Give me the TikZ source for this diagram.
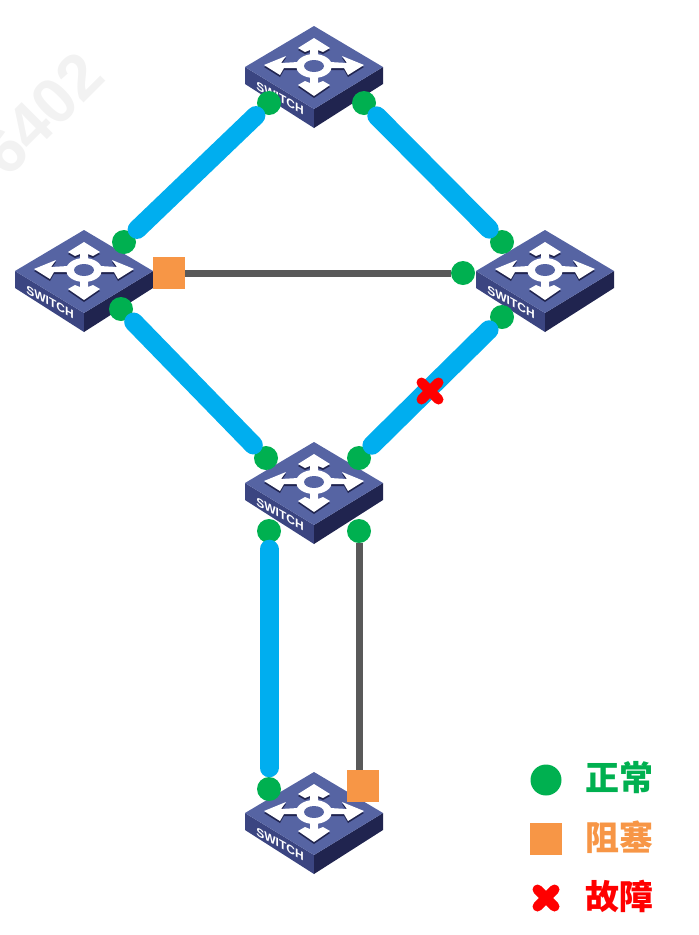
\documentclass[tikz,border=0pt]{standalone}
\usepackage{fontspec}
\setmainfont{Liberation Sans}
\newfontfamily\cjk{Noto Sans CJK SC}
\usetikzlibrary{shapes.misc}
\definecolor{linkblue}{HTML}{00AEEF}
\definecolor{linkgray}{HTML}{595959}
\definecolor{okgreen}{HTML}{00B050}
\definecolor{blockorange}{HTML}{F79646}
\definecolor{swtop}{HTML}{5664A3}
\definecolor{swleft}{HTML}{3B4581}
\definecolor{swright}{HTML}{20244F}
\tikzset{
  link/.style={linkblue,line width=19pt,line cap=round},
  backup/.style={linkgray,line width=7pt},
  port/.style={circle,fill=okgreen,inner sep=0pt,minimum size=24pt},
  blocked/.style={rectangle,fill=blockorange,inner sep=0pt,minimum size=32pt},
  fault/.style={cross out,draw=red,line width=10pt,line cap=round,inner sep=0pt,outer sep=0pt,minimum size=17pt},
  legendtext/.style={font=\cjk\bfseries\fontsize{34}{34}\selectfont},
  switch/.pic={
    \fill[swleft] (-69,0) -- (0,42) -- (0,61) -- (-69,17) -- cycle;
    \fill[swright] (69,0) -- (0,42) -- (0,61) -- (69,17) -- cycle;
    \fill[swtop] (0,-41) -- (69,0) -- (0,42) -- (-69,0) -- cycle;
    \foreach \col/\off in {swright/2,white/0}{
      \fill[\col,yshift=-\off pt]
        (0,-29) -- (16,-19) -- (9,-15) -- (4,-17) -- (4,-9) -- (16,-5) --
        (33,-4) -- (28,-11) -- (50,-2) -- (34,8) -- (30,1) -- (16,1) --
        (4,8) -- (4,16) -- (9,14) -- (16,18) -- (0,29) -- (-16,18) -- (-9,14) -- (-4,16) -- (-4,8) --
        (-16,1) -- (-30,1) -- (-34,8) -- (-50,-2) -- (-28,-11) -- (-33,-4) -- (-16,-5) --
        (-4,-9) -- (-4,-17) -- (-9,-15) -- (-16,-19) -- cycle;
    }
    \fill[white] (0,-1) ellipse (18 and 12);
    \fill[swtop] (0,-1) ellipse (10 and 6);
    \node[white,font=\bfseries\fontsize{12}{12}\selectfont,yslant=-0.55,inner sep=0pt] at (-34,31) {SWITCH};
  }
}
\begin{document}
\begin{tikzpicture}[x=1pt,y=-1pt]
  \useasboundingbox (0,0) rectangle (699,935);
  \node[rotate=45,text=black!5,font=\bfseries\fontsize{64}{64}\selectfont,inner sep=0pt] (mark) at (42,114) {6402};

  \pic at (314,67) {switch};
  \pic at (84,271) {switch};
  \pic at (545,271) {switch};
  \pic at (314,483) {switch};
  \pic at (314,813) {switch};

  \node[port] (topa) at (269,103) {};
  \node[port] (topb) at (364,103) {};
  \node[port] (lefta) at (124,242) {};
  \node[port] (leftb) at (121,309) {};
  \node[blocked] (leftc) at (169,273) {};
  \node[port] (righta) at (502,242) {};
  \node[port] (rightb) at (463,273) {};
  \node[port] (rightc) at (502,317) {};
  \node[port] (mida) at (266,458) {};
  \node[port] (midb) at (359,458) {};
  \node[port] (midc) at (269,531) {};
  \node[port] (midd) at (359,531) {};
  \node[port] (lowa) at (269,789) {};
  \node[blocked] (lowb) at (363,786) {};

  \draw[link,shorten <=6pt,shorten >=6pt] (topa) -- (lefta);
  \draw[link,shorten <=6pt,shorten >=6pt] (topb) -- (righta);
  \draw[link,shorten <=6pt,shorten >=6pt] (leftb) -- (mida);
  \draw[link,shorten <=6pt,shorten >=6pt] (rightc) -- (midb);
  \draw[link,shorten <=6pt,shorten >=9pt] (midc) -- (lowa);
  \draw[backup] (leftc) -- (rightb);
  \draw[backup] (midd) -- (midd |- lowb.north);
  \node[fault] (broken) at (430,391) {};

  \node[circle,fill=okgreen,inner sep=0pt,minimum size=31pt] (keyok) at (546,780) {};
  \node[blocked] (keyblock) at (546,839) {};
  \node[fault] (keyfault) at (546,898) {};
  \node[legendtext,text=okgreen] (textok) at (619,778) {正常};
  \node[legendtext,text=blockorange] (textblock) at (619,837) {阻塞};
  \node[legendtext,text=red] (textfault) at (619,896) {故障};
\end{tikzpicture}
\end{document}
